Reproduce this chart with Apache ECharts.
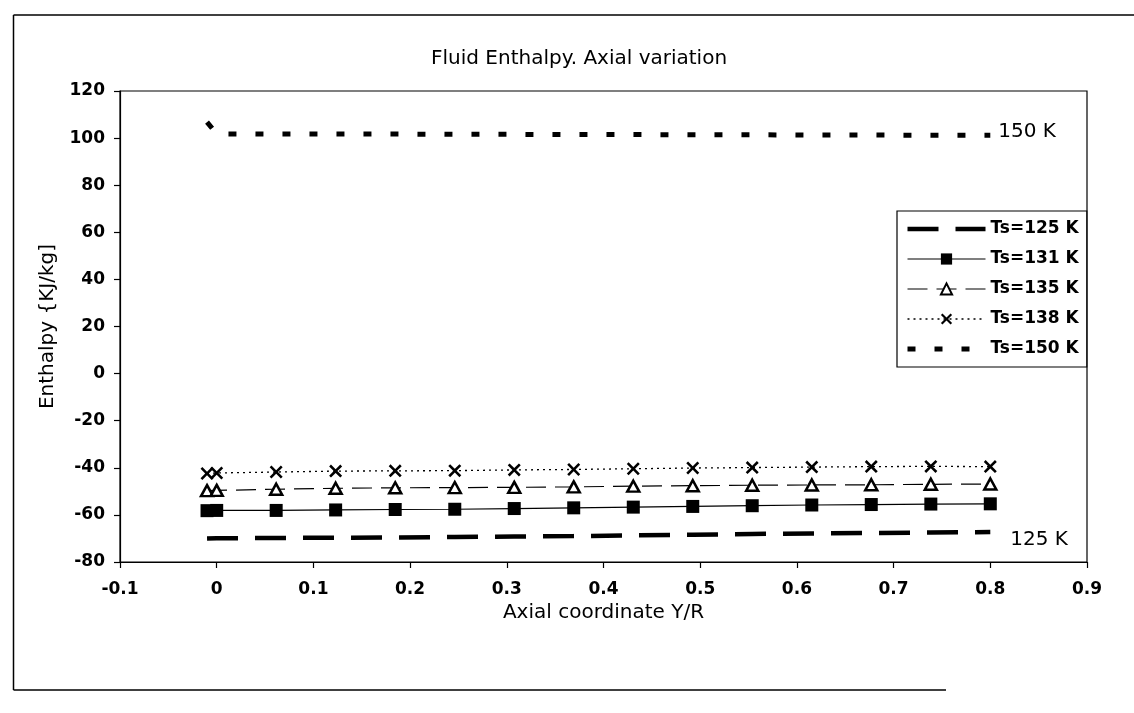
<!DOCTYPE html>
<html>
<head>
<meta charset="utf-8">
<script src="https://cdn.jsdelivr.net/npm/echarts@6/dist/echarts.min.js"></script>
<style>
html,body{margin:0;padding:0;background:#fff;}
#chart{width:1134px;height:713px;}
</style>
</head>
<body>
<div id="chart"></div>
<script>
// ---- data ----
const xValues = [-0.01, 0, 0.0615, 0.123, 0.1846, 0.2462, 0.3077, 0.3692, 0.4308, 0.4923, 0.5538, 0.6154, 0.6769, 0.7385, 0.8];
const ts125 = [-70.0, -69.9, -69.8, -69.7, -69.6, -69.4, -69.2, -69.0, -68.7, -68.4, -68.1, -67.9, -67.7, -67.5, -67.3];
const ts131 = [-58.2, -58.1, -58.1, -57.9, -57.7, -57.6, -57.3, -57.0, -56.7, -56.4, -56.1, -55.8, -55.6, -55.4, -55.3];
const ts135 = [-49.7, -49.6, -49.1, -48.7, -48.5, -48.4, -48.3, -48.1, -47.8, -47.6, -47.4, -47.3, -47.2, -47.0, -46.9];
const ts138 = [-42.4, -42.2, -41.8, -41.4, -41.3, -41.2, -40.9, -40.7, -40.4, -40.1, -39.9, -39.7, -39.5, -39.4, -39.5];
const ts150 = [106.8, 101.8, 101.7, 101.7, 101.7, 101.6, 101.6, 101.5, 101.5, 101.4, 101.4, 101.3, 101.3, 101.2, 101.2];
const seriesNames = ['Ts=125 K', 'Ts=131 K', 'Ts=135 K', 'Ts=138 K', 'Ts=150 K'];
const endLabels = ['125 K', '150 K'];
const xTicks = [-0.1, 0, 0.1, 0.2, 0.3, 0.4, 0.5, 0.6, 0.7, 0.8, 0.9];
const yTicks = [-80, -60, -40, -20, 0, 20, 40, 60, 80, 100, 120];
const titleText = 'Fluid Enthalpy. Axial variation';
const xName = 'Axial coordinate Y/R';
const yName = 'Enthalpy {KJ/kg]';

const FONT = 'DejaVu Sans';
const pair = ys => xValues.map((x, i) => [x, ys[i]]);
const xShape = 'path://M0,14 L14,0 L50,36 L86,0 L100,14 L64,50 L100,86 L86,100 L50,64 L14,100 L0,86 L36,50 Z';

const styles = [
  {symbol: 'none', line: {color: '#000', width: 4.5, type: [31, 17], cap: 'butt'}, item: {color: '#000'}},
  {symbol: 'rect', size: 13, line: {color: '#000', width: 1.2, type: 'solid'}, item: {color: '#000'}},
  {symbol: 'triangle', size: [12, 11], line: {color: '#000', width: 1.2, type: [20, 9]}, item: {color: '#fff', borderColor: '#000', borderWidth: 2.5}},
  {symbol: xShape, size: 13, line: {color: '#000', width: 1.3, type: [2, 4]}, item: {color: '#000'}},
  {symbol: 'none', line: {color: '#000', width: 5, type: [8, 19], cap: 'butt'}, item: {color: '#000'}}
];
const values = [ts125, ts131, ts135, ts138, ts150];

const series = seriesNames.map((name, i) => {
  const s = {
    name, type: 'line', data: pair(values[i]),
    symbol: styles[i].symbol, showAllSymbol: true,
    lineStyle: styles[i].line, itemStyle: styles[i].item
  };
  if (styles[i].size) s.symbolSize = styles[i].size;
  return s;
});
series[0].endLabel = {show: true, formatter: endLabels[0], distance: 20, offset: [0, 8], fontFamily: FONT, fontSize: 20, color: '#000'};
series[4].endLabel = {show: true, formatter: endLabels[1], distance: 8, offset: [0, -3], fontFamily: FONT, fontSize: 20, color: '#000'};

const legendData = seriesNames.map((name, i) => {
  const d = {name, lineStyle: Object.assign({}, styles[i].line)};
  if (styles[i].symbol === 'none') d.itemStyle = {opacity: 0};
  return d;
});

const chart = echarts.init(document.getElementById('chart'), null, {renderer: 'canvas'});
chart.setOption({
  animation: false,
  backgroundColor: '#fff',
  title: {
    text: titleText, left: 426, top: 44,
    textStyle: {fontFamily: FONT, fontSize: 20, fontWeight: 'normal', color: '#000'}
  },
  grid: {left: 120, right: 47, top: 91, bottom: 151, show: true, borderColor: '#000', borderWidth: 1.2, backgroundColor: 'transparent'},
  legend: {
    orient: 'vertical', left: 897, top: 211,
    padding: [8, 8, 8, 8], itemGap: 10, itemWidth: 78, itemHeight: 14,
    backgroundColor: '#fff', borderColor: '#000', borderWidth: 1.2, borderRadius: 0,
    data: legendData,
    textStyle: {fontFamily: FONT, fontSize: 17, fontWeight: 'bold', color: '#000', lineHeight: 20}
  },
  xAxis: {
    type: 'value', min: xTicks[0], max: xTicks[xTicks.length - 1], interval: xTicks[1] - xTicks[0],
    name: xName, nameLocation: 'middle', nameGap: 37,
    nameTextStyle: {fontFamily: FONT, fontSize: 20, color: '#000'},
    axisLine: {onZero: false, lineStyle: {color: '#000', width: 1.2}},
    axisTick: {show: true, length: 6, lineStyle: {color: '#000', width: 1.2}},
    splitLine: {show: false},
    axisLabel: {
      margin: 19, fontFamily: FONT, fontSize: 17, fontWeight: 'bold', color: '#000',
      formatter: v => String(+v.toFixed(1))
    }
  },
  yAxis: {
    type: 'value', min: yTicks[0], max: yTicks[yTicks.length - 1], interval: yTicks[1] - yTicks[0],
    name: yName, nameLocation: 'middle', nameGap: 62,
    nameTextStyle: {fontFamily: FONT, fontSize: 20, color: '#000'},
    axisLine: {show: true, onZero: false, lineStyle: {color: '#000', width: 1.2}},
    axisTick: {show: true, length: 6, lineStyle: {color: '#000', width: 1.2}},
    splitLine: {show: false},
    axisLabel: {margin: 15, fontFamily: FONT, fontSize: 17, fontWeight: 'bold', color: '#000'}
  },
  graphic: [
    {type: 'line', shape: {x1: 13.5, y1: 15, x2: 13.5, y2: 690}, style: {stroke: '#000', lineWidth: 1.5}},
    {type: 'line', shape: {x1: 13.5, y1: 15, x2: 1134, y2: 15}, style: {stroke: '#000', lineWidth: 1.5}},
    {type: 'line', shape: {x1: 13.5, y1: 690, x2: 946, y2: 690}, style: {stroke: '#000', lineWidth: 1.5}}
  ],
  series
});
</script>
</body>
</html>
